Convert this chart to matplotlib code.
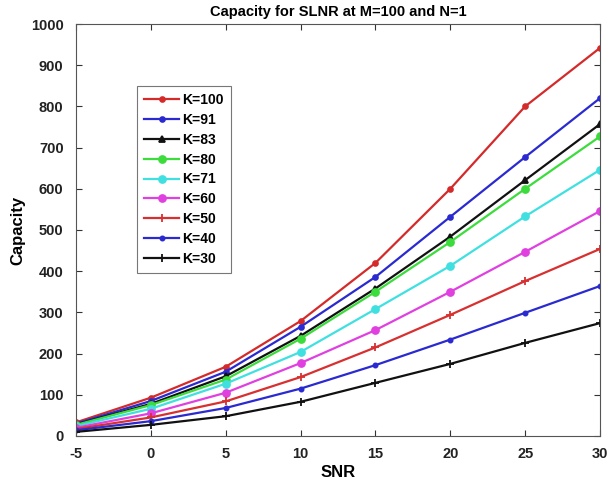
import matplotlib
matplotlib.use("Agg")
import matplotlib.pyplot as plt

snr = [-5, 0, 5, 10, 15, 20, 25, 30]
labels = ["K=100", "K=91", "K=83", "K=80", "K=71", "K=60", "K=50", "K=40", "K=30"]
k100 = [33, 93, 168, 279, 420, 600, 800, 942]
k91 = [30, 85, 156, 265, 386, 532, 677, 820]
k83 = [28, 78, 145, 243, 358, 484, 621, 757]
k80 = [27, 75, 137, 236, 350, 471, 600, 727]
k71 = [24, 66, 127, 204, 308, 413, 533, 646]
k60 = [20, 55, 105, 177, 257, 350, 447, 546]
k50 = [17, 45, 84, 143, 215, 294, 376, 454]
k40 = [14, 36, 68, 115, 172, 234, 299, 364]
k30 = [10, 27, 48, 83, 129, 175, 226, 274]
series = [k100, k91, k83, k80, k71, k60, k50, k40, k30]

colors = ["#d42a2a", "#2a2ad0", "#111111", "#3cdc3c", "#40e0e0", "#e040e0", "#d83030", "#2a2ad0", "#111111"]
markers = [".", ".", "^", "o", "o", "o", "+", ".", "+"]
msizes = [7, 7, 5, 5, 5, 5, 6, 6, 6]

plt.rcParams['font.family'] = ['Liberation Sans', 'DejaVu Sans']
plt.rcParams['font.weight'] = 'bold'
plt.rcParams['axes.unicode_minus'] = False

fig = plt.figure(figsize=(6.1, 4.86), dpi=100)
ax = fig.add_axes([0.1246, 0.1029, 0.859, 0.8477])

for y, lab, c, m, ms in zip(series, labels, colors, markers, msizes):
    ax.plot(snr, y, color=c, marker=m, markersize=ms, linewidth=1.6, label=lab,
            markeredgewidth=1.3)

ax.set_xlim(-5, 30)
ax.set_ylim(0, 1000)
ax.set_xticks(range(-5, 31, 5))
ax.set_yticks(range(0, 1001, 100))
ax.tick_params(direction='in', top=True, right=True, labelsize=10.5, length=4, width=0.8, colors='#333333', labelcolor='#222222')
ax.tick_params(axis='x', pad=8)
ax.tick_params(axis='y', pad=9)
for lab in ax.get_xticklabels() + ax.get_yticklabels():
    lab.set_fontweight('bold')
for s in ax.spines.values():
    s.set_color('#555555')
    s.set_linewidth(0.8)

ax.set_title("Capacity for SLNR at M=100 and N=1", fontsize=10.5, fontweight='bold', pad=6)
ax.set_xlabel("SNR", fontsize=12, fontweight='bold', labelpad=3)
ax.set_ylabel("Capacity", fontsize=12, fontweight='bold', labelpad=4)

leg = ax.legend(loc='upper left', bbox_to_anchor=(0.104, 0.866), fontsize=10,
                frameon=True, fancybox=False, edgecolor='#555555', handlelength=2.5,
                labelspacing=0.42, borderpad=0.5, handletextpad=0.25)
leg.get_frame().set_linewidth(0.8)
for t in leg.get_texts():
    t.set_fontweight('bold')

fig.savefig("out.png", dpi=100)
